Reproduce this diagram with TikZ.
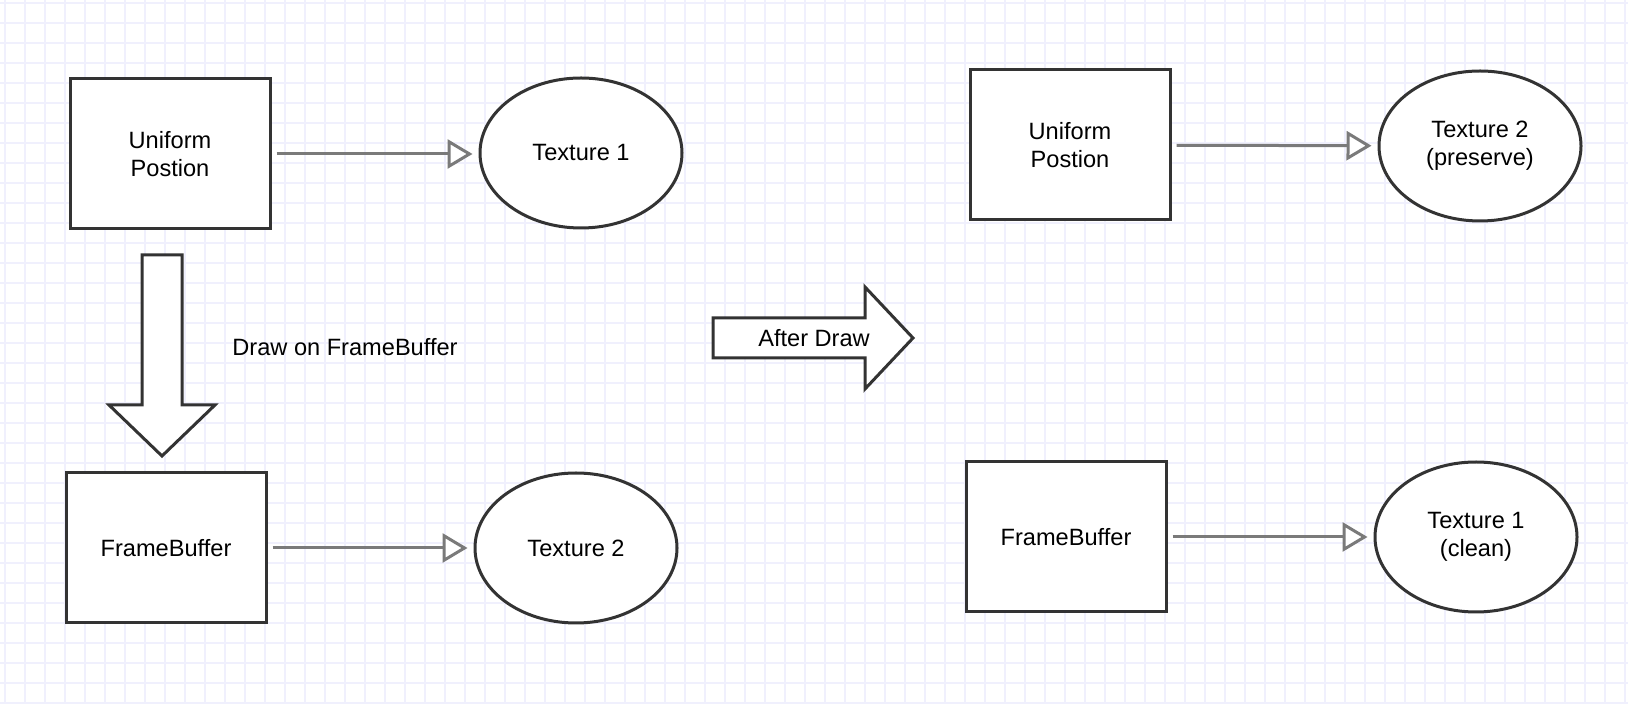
\documentclass[tikz,border=0pt]{standalone}
\usepackage{fontspec}
\setmainfont{Liberation Sans}
\usetikzlibrary{arrows.meta,shapes.geometric}
\definecolor{linedark}{RGB}{51,51,51}
\definecolor{linegray}{RGB}{122,122,122}
\definecolor{gridblue}{RGB}{240,240,253}
\begin{document}
\begin{tikzpicture}[x=0.5pt,y=-0.5pt,
  font=\fontsize{11.8}{13.8}\selectfont,
  box/.style={draw=linedark,line width=1.5pt,fill=white,minimum width=100pt,minimum height=75pt,align=center},
  tex/.style={draw=linedark,ellipse,line width=1.5pt,fill=white,minimum width=101pt,minimum height=75pt,align=center},
  link/.style={-{Triangle[open,length=12.5pt,width=14.5pt,fill=white]},draw=linegray,line width=1.5pt,shorten <=2.5pt,shorten >=3pt},
  bigarrow/.style={draw=linedark,line width=1.5pt,fill=white,line join=miter}]
\useasboundingbox (0,0) rectangle (1628,704);
\fill[white] (0,0) rectangle (1628,704);
% background grid
\foreach \x in {5,25,...,1625} \draw[gridblue,line width=0.9pt] (\x,0) -- (\x,704);
\foreach \y in {3,23,...,703} \draw[gridblue,line width=0.9pt] (0,\y) -- (1628,\y);
% before drawing
\node[box] (UPL) at (170,154) {Uniform\\Postion};
\node[tex] (TXa) at (581,153) {Texture 1};
\node[box] (FBL) at (166,548) {FrameBuffer};
\node[tex] (TXb) at (576,548) {Texture 2};
\draw[link] (UPL) -- (UPL -| TXa.west);
\draw[link] (FBL) -- (TXb);
\draw[bigarrow] (142,255) -- (182,255) -- (182,405) -- (215,405) -- (162,456) -- (109,405) -- (142,405) -- cycle;
\node (DrawLbl) at (345,347) {Draw on FrameBuffer};
% step arrow
\draw[bigarrow] (713,318) -- (865,318) -- (865,287) -- (913,338) -- (865,389) -- (865,358) -- (713,358) -- cycle;
\node (AfterLbl) at (814,338) {After Draw};
% after drawing
\node[box] (UPR) at (1070,145) {Uniform\\Postion};
\node[tex] (TXc) at (1480,146) {Texture 2\\(preserve)};
\node[box] (FBR) at (1066,537) {FrameBuffer};
\node[tex] (TXd) at (1476,537) {Texture 1\\(clean)};
\draw[link] (UPR) -- (TXc);
\draw[link] (FBR) -- (TXd);
\end{tikzpicture}
\end{document}
